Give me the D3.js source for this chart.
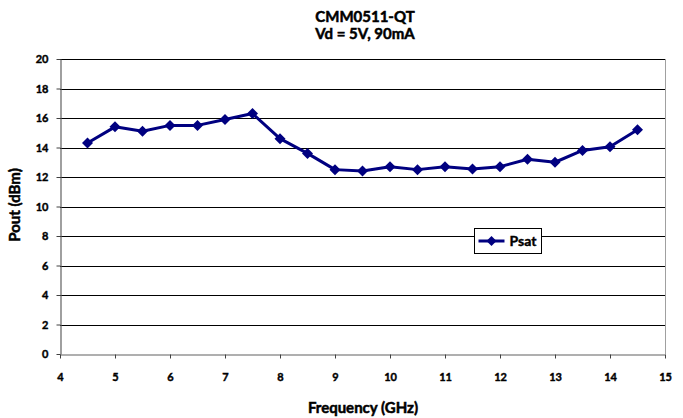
<!DOCTYPE html>
<html><head><meta charset="utf-8">
<script src="https://cdn.jsdelivr.net/npm/d3@7"></script>
<style>body{margin:0;background:#fff}svg{display:block}</style>
</head><body>
<svg id="c" width="683" height="418"></svg>
<script>
const freqs = [4.5,5,5.5,6,6.5,7,7.5,8,8.5,9,9.5,10,10.5,11,11.5,12,12.5,13,13.5,14,14.5];
const psat  = [14.3,15.4,15.1,15.5,15.5,15.9,16.3,14.6,13.6,12.5,12.4,12.7,12.5,12.7,12.55,12.7,13.2,13.0,13.8,14.05,15.2];
const xTicks = [4,5,6,7,8,9,10,11,12,13,14,15];
const yTicks = [0,2,4,6,8,10,12,14,16,18,20];
const titleLines = ["CMM0511-QT","Vd = 5V, 90mA"];
const seriesName = "Psat";

const svg = d3.select("#c");
const font = "Lato, 'DejaVu Sans', sans-serif";
const L=60, R=665, T=59, B=354;
const x = d3.scaleLinear().domain([4,15]).range([L,R]);
const y = d3.scaleLinear().domain([0,20]).range([B,T]);
const bold = (s, size, sw) => s.attr("font-family",font).attr("font-weight","bold").attr("font-size",size)
  .attr("fill","#000").attr("stroke","#000").attr("stroke-width",sw);

// grid
svg.append("g").selectAll("line").data(yTicks.filter(d=>d>0)).join("line")
  .attr("x1",L).attr("x2",R).attr("y1",d=>Math.round(y(d))+0.5).attr("y2",d=>Math.round(y(d))+0.5)
  .attr("stroke","#000").attr("stroke-width",1);
// right border
svg.append("line").attr("x1",R+0.5).attr("x2",R+0.5).attr("y1",T).attr("y2",B).attr("stroke","#a0a0a0");

// axes
const xa = svg.append("g").attr("transform",`translate(0,${B+0.5})`)
  .call(d3.axisBottom(x).tickValues(xTicks).tickSize(4).tickSizeOuter(0).tickPadding(15).tickFormat(d3.format("d")));
const ya = svg.append("g").attr("transform",`translate(${L+0.5},0)`)
  .call(d3.axisLeft(y).tickValues(yTicks).tickSize(4).tickSizeOuter(0).tickPadding(8).tickFormat(d3.format("d")));
[xa,ya].forEach(a=>{
  a.select(".domain").attr("stroke","#606060").attr("stroke-width",1.2);
  a.selectAll(".tick line").attr("stroke","#404040");
  bold(a.selectAll("text"), 11, 0.4);
});

// line
svg.append("path").datum(freqs.map((f,i)=>[f,psat[i]]))
  .attr("fill","none").attr("stroke","#000080").attr("stroke-width",3).attr("stroke-linejoin","round")
  .attr("d",d3.line().x(d=>x(d[0])).y(d=>y(d[1])));
const diamond = s=>`M0,${-s}L${s},0L0,${s}L${-s},0Z`;
svg.append("g").selectAll("path").data(freqs).join("path")
  .attr("transform",(d,i)=>`translate(${x(d)},${y(psat[i])})`)
  .attr("d",diamond(5.5)).attr("fill","#000080");

// titles
bold(svg.append("g").selectAll("text").data(titleLines).join("text")
  .attr("x",365).attr("y",(d,i)=>22+i*17).attr("text-anchor","middle").text(d=>d), 15, 0.5);
bold(svg.append("text").attr("x",363).attr("y",413).attr("text-anchor","middle").text("Frequency (GHz)"), 15, 0.5);
bold(svg.append("text").attr("transform","translate(20,205) rotate(-90)").attr("text-anchor","middle").text("Pout (dBm)"), 15, 0.5);

// legend
const lg = svg.append("g").attr("transform","translate(474.5,228.5)");
lg.append("rect").attr("width",67).attr("height",25).attr("fill","#fff").attr("stroke","#000");
lg.append("line").attr("x1",4).attr("x2",30).attr("y1",12.5).attr("y2",12.5).attr("stroke","#000080").attr("stroke-width",3);
lg.append("path").attr("transform","translate(17,12.5)").attr("d",diamond(5)).attr("fill","#000080");
bold(lg.append("text").attr("x",35).attr("y",17.5).text(seriesName), 14, 0.4);
</script>
</body></html>
